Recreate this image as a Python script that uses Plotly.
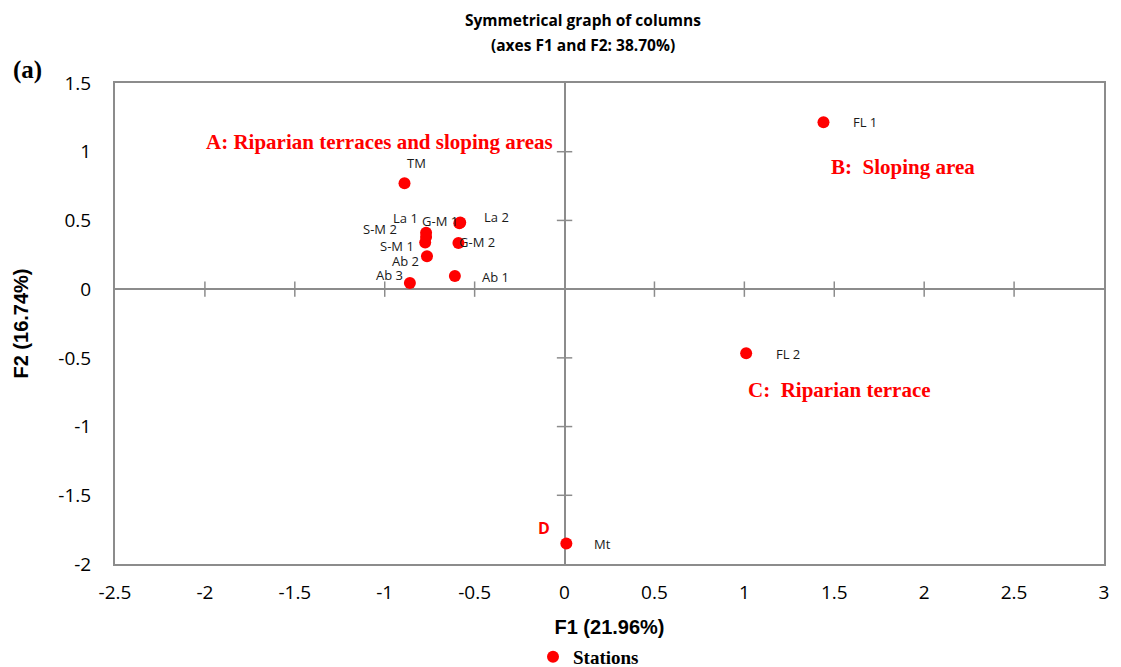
import plotly.graph_objects as go

# --- dados ---
stations = ['TM', 'La 1', 'G-M 1', 'La 2', 'S-M 2', 'S-M 1', 'G-M 2', 'Ab 2', 'Ab 3', 'Ab 1', 'FL 1', 'FL 2', 'Mt']
f1 = [-0.89, -0.77, -0.585, -0.58, -0.77, -0.775, -0.59, -0.765, -0.86, -0.61, 1.44, 1.01, 0.01]
f2 = [0.77, 0.41, 0.48, 0.485, 0.38, 0.34, 0.335, 0.24, 0.045, 0.095, 1.215, -0.466, -1.85]

x_ticks = [-2.5, -2, -1.5, -1, -0.5, 0, 0.5, 1, 1.5, 2, 2.5, 3]
y_ticks = [-2, -1.5, -1, -0.5, 0, 0.5, 1, 1.5]

# deslocamento dos rótulos (px) em relação ao ponto
label_shift = {
    'TM': (12, 20), 'La 1': (-21, 15), 'G-M 1': (-19, 2), 'La 2': (36, 5),
    'S-M 2': (-46, 8), 'S-M 1': (-28, -4), 'G-M 2': (19, 1), 'Ab 2': (-21, -5),
    'Ab 3': (-20, 8), 'Ab 1': (41, -1), 'FL 1': (42, 0), 'FL 2': (42, -1), 'Mt': (36, -1),
}

RED = '#ff0000'
GRAY = '#8c8c8c'
SANS = 'Open Sans, Liberation Sans, sans-serif'
SERIF = 'Liberation Serif, Times New Roman, serif'
ARIAL = 'Liberation Sans, Arial, sans-serif'

# área do gráfico em pixels
L, R, T, B = 115, 17, 83, 103
W, H = 1121 - L - R, 667 - T - B


def to_paper(x, y):
    return (x - L) / W, (667 - B - y) / H


fig = go.Figure()

# marcas cruzadas nos eixos centrais
inner_x = [t for t in x_ticks if t not in (0, x_ticks[0], x_ticks[-1])]
inner_y = [t for t in y_ticks if t not in (0, y_ticks[0], y_ticks[-1])]
fig.add_trace(go.Scatter(
    x=inner_x, y=[0] * len(inner_x), mode='markers', showlegend=False, hoverinfo='skip',
    marker=dict(symbol='line-ns', size=11, line=dict(width=1.5, color=GRAY))
))
fig.add_trace(go.Scatter(
    x=[0] * len(inner_y), y=inner_y, mode='markers', showlegend=False, hoverinfo='skip',
    marker=dict(symbol='line-ew', size=11, line=dict(width=1.5, color=GRAY))
))

fig.add_trace(go.Scatter(
    x=f1, y=f2, mode='markers', name='<b>Stations</b>', text=stations,
    marker=dict(color=RED, size=12)
))

for name, xv, yv in zip(stations, f1, f2):
    dx, dy = label_shift[name]
    fig.add_annotation(x=xv, y=yv, text=name, showarrow=False, xshift=dx, yshift=dy,
                       font=dict(family=SANS, size=13, color='#1a1a1a'))

# rótulos das zonas
zones = [
    ('A: Riparian terraces and sloping areas', -1.03, 1.07),
    ('B:  Sloping area', 1.88, 0.89),
    ('C:  Riparian terrace', 1.53, -0.735),
]
for txt, xv, yv in zones:
    fig.add_annotation(x=xv, y=yv, text=f'<b>{txt}</b>', showarrow=False,
                       font=dict(family=SERIF, size=21, color=RED))
fig.add_annotation(x=-0.117, y=-1.74, text='<b>D</b>', showarrow=False,
                   font=dict(family=SANS, size=16, color=RED))

# título
for txt, yy in [('<b>Symmetrical graph of columns</b>', 20), ('<b>(axes F1 and F2: 38.70%)</b>', 45)]:
    xp, yp = to_paper(583, yy)
    fig.add_annotation(x=xp, y=yp, xref='paper', yref='paper', text=txt, showarrow=False,
                       xanchor='center', yanchor='middle',
                       font=dict(family=SANS, size=15.5, color='black'))
xp, yp = to_paper(27, 70)
fig.add_annotation(x=xp, y=yp, xref='paper', yref='paper', text='<b>(a)</b>', showarrow=False,
                   xanchor='center', yanchor='middle',
                   font=dict(family=SERIF, size=25, color='black'))

lx, ly = to_paper(533, 657)
fig.update_layout(
    width=1121, height=667,
    margin=dict(l=L, r=R, t=T, b=B, autoexpand=False),
    plot_bgcolor='white', paper_bgcolor='white',
    showlegend=True,
    legend=dict(orientation='h', x=lx, xanchor='left', y=ly, yanchor='middle',
                font=dict(family=SERIF, size=19, color='black'), itemwidth=30),
    xaxis=dict(range=[-2.5, 3], tickvals=x_ticks, ticktext=[f'{t:g}' for t in x_ticks],
               showgrid=False, zeroline=True, zerolinecolor=GRAY, zerolinewidth=1.5,
               showline=True, linecolor=GRAY, linewidth=2, mirror=True, automargin=False,
               ticks='outside', ticklen=10, tickcolor='rgba(0,0,0,0)',
               tickfont=dict(family=SANS, size=19, color='black'),
               title=dict(text='<b>F1 (21.96%)</b>', standoff=16,
                          font=dict(family=ARIAL, size=20, color='black'))),
    yaxis=dict(range=[-2, 1.5], tickvals=y_ticks, ticktext=[f'{t:g}' for t in y_ticks],
               showgrid=False, zeroline=True, zerolinecolor=GRAY, zerolinewidth=1.5,
               showline=True, linecolor=GRAY, linewidth=2, mirror=True, automargin=False,
               ticks='outside', ticklen=18, tickcolor='rgba(0,0,0,0)',
               tickfont=dict(family=SANS, size=19, color='black'),
               title=dict(text='<b>F2 (16.74%)</b>', standoff=24,
                          font=dict(family=ARIAL, size=20, color='black'))),
)

fig.write_html('out.html', config={'displayModeBar': False},
               post_script="document.body.style.margin='0';")
